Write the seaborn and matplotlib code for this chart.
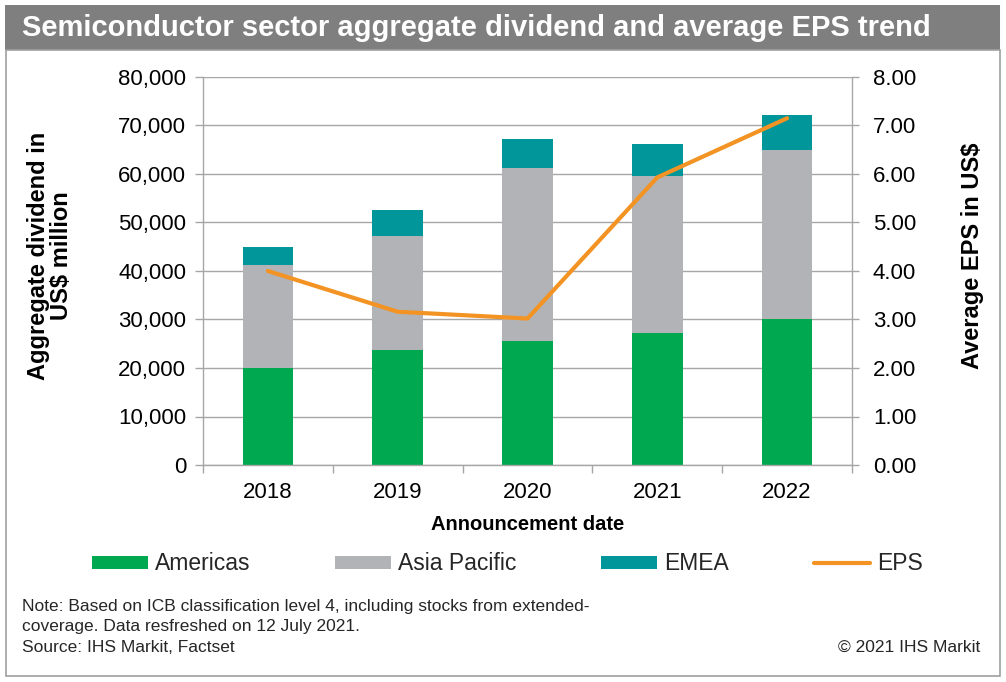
import numpy as np
import pandas as pd
import matplotlib
matplotlib.use("Agg")
import matplotlib.pyplot as plt
from matplotlib.patches import Patch, Rectangle
from matplotlib.lines import Line2D
from matplotlib.ticker import FuncFormatter, FixedLocator
import seaborn as sns

years = ["2018", "2019", "2020", "2021", "2022"]
americas = [20000, 23700, 25600, 27300, 30000]
asia_pacific = [21200, 23500, 35600, 32200, 34900]
emea = [3800, 5400, 6000, 6700, 7300]
eps = [4.00, 3.16, 3.02, 5.93, 7.15]

series_labels = ["Americas", "Asia Pacific", "EMEA", "EPS"]
title = "Semiconductor sector aggregate dividend and average EPS trend"
note_lines = ["Note: Based on ICB classification level 4, including stocks from extended-",
              "coverage. Data resfreshed on 12 July 2021.",
              "Source: IHS Markit, Factset"]
copyright_text = "\u00a9 2021 IHS Markit"

sns.set_theme(style="white")
plt.rcParams["font.family"] = ["Liberation Sans", "DejaVu Sans"]

C_AM = "#00A84F"
C_AP = "#B1B3B6"
C_EM = "#00969A"
C_EPS = "#F39323"
C_GRID = "#A6A6A6"

W, H = 1006, 682
fig = plt.figure(figsize=(W / 100, H / 100), dpi=100)
fig.patch.set_facecolor("white")

# title band and frame
fig.patches.append(Rectangle((5 / W, 1 - 50 / H), 995 / W, 45 / H, transform=fig.transFigure,
                             facecolor="#7F7F7F", edgecolor="none", zorder=0))
fig.patches.append(Rectangle((6 / W, 6 / H), 994 / W, (676 - 50) / H, transform=fig.transFigure,
                             facecolor="none", edgecolor="#A0A0A0", lw=1.2, zorder=0))
fig.text(22 / W, 1 - 28 / H, title, color="white", fontsize=21, fontweight="bold", va="center", ha="left")

ax = fig.add_axes([203 / W, 1 - 465 / H, (852 - 203) / W, (465 - 77) / H])

df = pd.DataFrame({"year": years,
                   "am": americas,
                   "ap": np.array(americas) + np.array(asia_pacific),
                   "em": np.array(americas) + np.array(asia_pacific) + np.array(emea)})

bw = 0.39
for col, c in [("em", C_EM), ("ap", C_AP), ("am", C_AM)]:
    sns.barplot(data=df, x="year", y=col, color=c, saturation=1, width=bw, ax=ax, zorder=2,
                linewidth=0, edgecolor="none")

ax.set_xlim(-0.5, len(years) - 0.5)
ax.set_ylim(0, 80000)
ax.yaxis.set_major_locator(FixedLocator(np.arange(0, 80001, 10000)))
ax.yaxis.set_major_formatter(FuncFormatter(lambda v, p: f"{int(v):,}"))
ax.yaxis.grid(True, color=C_GRID, lw=1)
ax.xaxis.grid(False)
ax.set_axisbelow(True)

for s in ["top", "right"]:
    ax.spines[s].set_visible(False)
for s in ["left", "bottom"]:
    ax.spines[s].set_color(C_GRID)
    ax.spines[s].set_linewidth(1)

ax.tick_params(axis="y", which="major", direction="out", length=6, width=1, color=C_GRID,
               labelsize=16, pad=6, left=True, labelcolor="black")
ax.tick_params(axis="x", which="major", length=0, labelsize=16, pad=12, labelcolor="black")
ax.set_xticks(np.arange(-0.5, len(years) + 0.5, 1), minor=True)
ax.tick_params(axis="x", which="minor", direction="out", length=6, width=1, color=C_GRID, bottom=True)

ax.set_xlabel("Announcement date", fontsize=14.5, fontweight="bold", color="black")
ax.xaxis.set_label_coords(0.5, -(525 - 465) / 388)
ax.xaxis.label.set_va("center")
ax.set_ylabel("Aggregate dividend in\nUS$ million", fontsize=17, fontweight="bold", color="black",
              linespacing=1.05)
ax.yaxis.set_label_coords((50 - 203) / 649, 0.54)
ax.yaxis.label.set_va("center")

ax2 = ax.twinx()
sns.lineplot(x=np.arange(len(years)), y=eps, color=C_EPS, lw=3, ax=ax2, zorder=5)
ax2.set_ylim(0, 8)
ax2.yaxis.set_major_locator(FixedLocator(np.arange(0, 8.01, 1)))
ax2.yaxis.set_major_formatter(FuncFormatter(lambda v, p: f"{v:.2f}"))
ax2.grid(False)
for s in ["top", "left", "bottom"]:
    ax2.spines[s].set_visible(False)
ax2.spines["right"].set_color(C_GRID)
ax2.spines["right"].set_linewidth(1)
ax2.tick_params(axis="y", direction="out", length=5, width=1, color=C_GRID, labelsize=16, pad=10,
                right=True, labelcolor="black")
ax2.set_ylabel("Average EPS in US$", fontsize=17, fontweight="bold", color="black", rotation=90)
ax2.yaxis.set_label_coords((973 - 203) / 649, 0.54)
ax2.yaxis.label.set_va("center")
ax2.set_xlim(-0.5, len(years) - 0.5)

handles = [Patch(facecolor=C_AM, edgecolor="none"), Patch(facecolor=C_AP, edgecolor="none"),
           Patch(facecolor=C_EM, edgecolor="none"), Line2D([], [], color=C_EPS, lw=3)]
fig.legend(handles, series_labels, loc="center", bbox_to_anchor=(507 / W, 1 - 564 / H), ncol=4,
           frameon=False, fontsize=16.5, handlelength=2.45, handleheight=0.52, handletextpad=0.3,
           columnspacing=3.7)

for i, line in enumerate(note_lines):
    fig.text(22 / W, 1 - (607 + 20 * i) / H, line, fontsize=12.5, va="center", ha="left")
fig.text(980 / W, 1 - 647 / H, copyright_text, fontsize=12.5, va="center", ha="right")

fig.savefig("out.png", dpi=100)
